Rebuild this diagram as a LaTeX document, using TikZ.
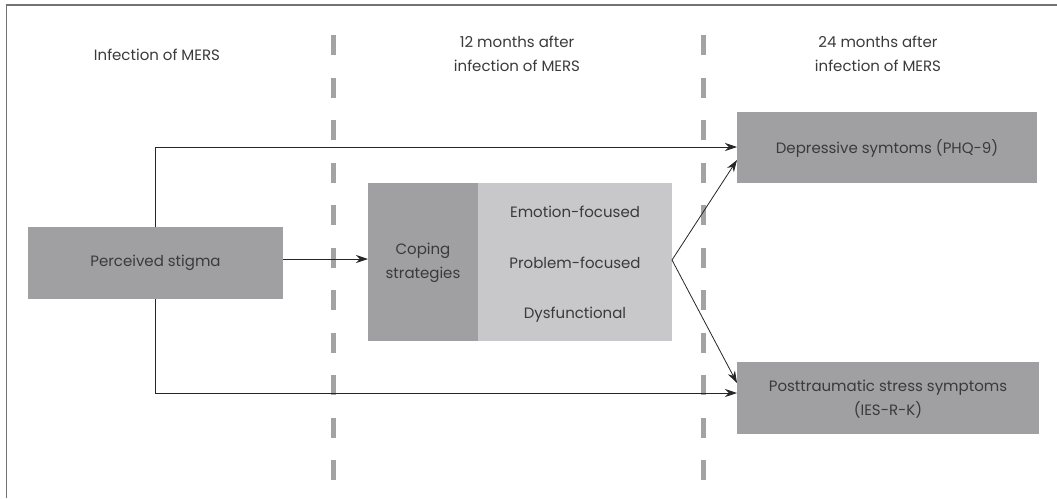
\documentclass[tikz,border=0pt]{standalone}
\usepackage{fontspec}
\setmainfont{Poppins}
\usetikzlibrary{arrows.meta}
\definecolor{boxdark}{HTML}{A0A0A3}
\definecolor{boxlight}{HTML}{C8C8CA}
\definecolor{txt}{HTML}{3A3A3A}
\definecolor{dashc}{HTML}{A3A3A6}
\begin{document}
\begin{tikzpicture}[x=1pt,y=-1pt,
  every node/.style={font=\fontsize{15}{24}\selectfont, text=txt, inner sep=0pt, align=center},
  darkbox/.style={fill=boxdark, draw=none},
  lightbox/.style={fill=boxlight, draw=none},
  conn/.style={draw=black!85, line width=0.8pt},
  arr/.style={conn, -{Stealth[length=12pt,width=8pt]}},
  sep/.style={draw=dashc, line width=5pt, dash pattern=on 20pt off 22.5pt}
]
\useasboundingbox (0,0) rectangle (1057,498);
% frame (cut at right and bottom)
\draw[black!55, line width=1.5pt] (6.5,498) -- (6.5,5) -- (1057,5);
% separators
\draw[sep] (333,35) -- (333,480);
\draw[sep] (703,35) -- (703,480);
% headers
\node (h1) at (157,55) {Infection of MERS};
\node (h2) at (517,54) {12 months after\\infection of MERS};
\node (h3) at (878,54) {24 months after\\infection of MERS};
% boxes
\fill[darkbox] (28,227) rectangle (283,299);
\node (ps) at (155.5,263) {Perceived stigma};
\coordinate (psT) at (155,227);
\coordinate (psB) at (155,299);
\coordinate (psR) at (283,259);
\fill[darkbox] (368,183) rectangle (478,341);
\fill[lightbox] (478,183) rectangle (672,341);
\node (cs) at (423,263) {Coping\\strategies};
\node (ef) at (575,212) {Emotion-focused};
\node (pf) at (575,263) {Problem-focused};
\node (df) at (575,315) {Dysfunctional};
\coordinate (csL) at (368,259);
\coordinate (csR) at (672,260);
\fill[darkbox] (737,112) rectangle (1037,183);
\node (dep) at (887,148) {Depressive symtoms (PHQ-9)};
\coordinate (depL) at (737,147);
\coordinate (depL2) at (737,160);
\fill[darkbox] (737,362) rectangle (1039,434);
\node (pts) at (888,399) {Posttraumatic stress symptoms\\(IES-R-K)};
\coordinate (ptsL) at (737,393);
\coordinate (ptsL2) at (737,383);
% connectors
\draw[arr] (psT) |- (depL);
\draw[arr] (psB) |- (ptsL);
\draw[arr] (psR) -- (csL);
\draw[arr] (csR) -- (depL2);
\draw[arr] (csR) -- (ptsL2);
\end{tikzpicture}
\end{document}
